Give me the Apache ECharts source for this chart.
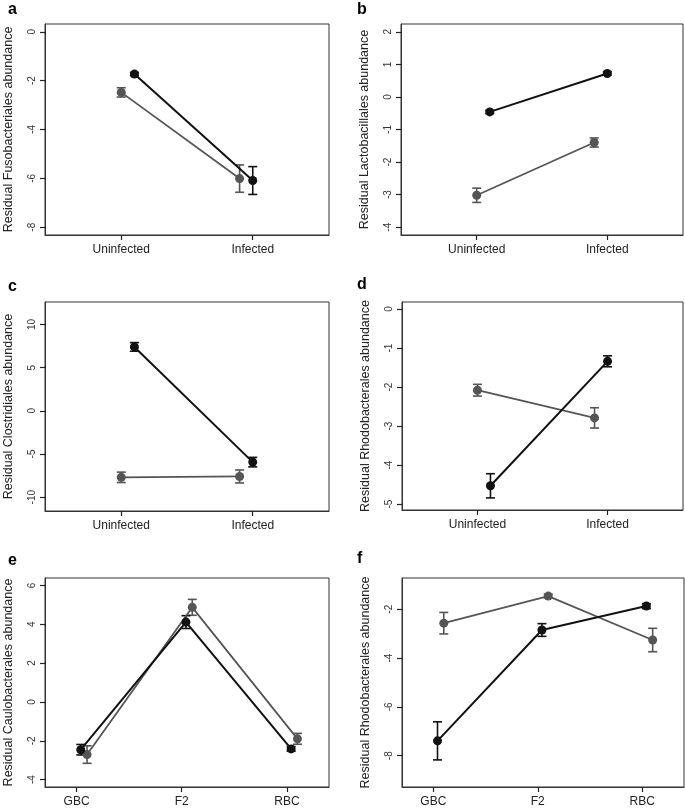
<!DOCTYPE html>
<html><head><meta charset="utf-8">
<script src="https://cdn.jsdelivr.net/npm/echarts@6/dist/echarts.min.js"></script>
<style>html,body{margin:0;padding:0;background:#fff}#c{width:685px;height:809px}</style>
</head><body><div id="c"></div>
<script>
// ---- data ----
const catsInf = ['Uninfected', 'Infected'];
const catsGen = ['GBC', 'F2', 'RBC'];
const dodgeInfBlack = [0.1, 0.0];
const dodgeInfGrey = [0.0, -0.1];
const dodgeGenBlack = [0.04, 0.04, 0.04];
const dodgeGenGrey = [0.1, 0.1, 0.1];

const aBlack = [-1.73, -6.09], aBlackErr = [0.07, 0.57];
const aGrey = [-2.48, -6.01], aGreyErr = [0.19, 0.56];
const bBlack = [-0.46, 0.72], bBlackErr = [0.05, 0.05];
const bGrey = [-3.02, -1.40], bGreyErr = [0.22, 0.14];
const cBlack = [7.4, -5.94], cBlackErr = [0.5, 0.55];
const cGrey = [-7.7, -7.6], cGreyErr = [0.6, 0.75];
const dBlack = [-4.53, -1.34], dBlackErr = [0.31, 0.14];
const dGrey = [-2.08, -2.79], dGreyErr = [0.15, 0.26];
const eBlack = [-2.46, 4.11, -2.42], eBlackErr = [0.27, 0.33, 0.12];
const eGrey = [-2.71, 4.87, -1.9], eGreyErr = [0.45, 0.41, 0.28];
const fBlack = [-7.39, -2.85, -1.87], fBlackErr = [0.78, 0.26, 0.1];
const fGrey = [-2.57, -1.46, -3.26], fGreyErr = [0.44, 0.08, 0.48];

const aTicks = [0, -2, -4, -6, -8];
const bTicks = [2, 1, 0, -1, -2, -3, -4];
const cTicks = [10, 5, 0, -5, -10];
const dTicks = [0, -1, -2, -3, -4, -5];
const eTicks = [6, 4, 2, 0, -2, -4];
const fTicks = [-2, -4, -6, -8];

const titles = ['Residual Fusobacteriales abundance', 'Residual Lactobacillales abundance',
  'Residual Clostridiales abundance', 'Residual Rhodobacterales abundance',
  'Residual Caulobacterales abundance', 'Residual Rhodobacterales abundance'];
const letters = ['a', 'b', 'c', 'd', 'e', 'f'];

// ---- layout ----
const panels = [
  {grid:{left:45, top:24, width:284, height:211}, cats:catsInf, xr:[0.42,2.58], yr:[-8.32,0.32], ticks:aTicks,
   black:aBlack, blackErr:aBlackErr, grey:aGrey, greyErr:aGreyErr, db:dodgeInfBlack, dg:dodgeInfGrey, letter:[8,10]},
  {grid:{left:401, top:24, width:282, height:211}, cats:catsInf, xr:[0.42,2.58], yr:[-4.24,2.24], ticks:bTicks,
   black:bBlack, blackErr:bBlackErr, grey:bGrey, greyErr:bGreyErr, db:dodgeInfBlack, dg:dodgeInfGrey, letter:[357,10]},
  {grid:{left:45, top:302, width:284, height:209}, cats:catsInf, xr:[0.42,2.58], yr:[-11.6,12.6], ticks:cTicks,
   black:cBlack, blackErr:cBlackErr, grey:cGrey, greyErr:cGreyErr, db:dodgeInfBlack, dg:dodgeInfGrey, letter:[8,287]},
  {grid:{left:402, top:302, width:281, height:208}, cats:catsInf, xr:[0.42,2.58], yr:[-5.15,0.18], ticks:dTicks,
   black:dBlack, blackErr:dBlackErr, grey:dGrey, greyErr:dGreyErr, db:dodgeInfBlack, dg:dodgeInfGrey, letter:[357,285]},
  {grid:{left:45, top:578, width:284, height:209}, cats:catsGen, xr:[0.7,3.4], yr:[-4.38,6.38], ticks:eTicks,
   black:eBlack, blackErr:eBlackErr, grey:eGrey, greyErr:eGreyErr, db:dodgeGenBlack, dg:dodgeGenGrey, letter:[8,561]},
  {grid:{left:402, top:578, width:282, height:209}, cats:catsGen, xr:[0.7,3.4], yr:[-9.28,-0.72], ticks:fTicks,
   black:fBlack, blackErr:fBlackErr, grey:fGrey, greyErr:fGreyErr, db:dodgeGenBlack, dg:dodgeGenGrey, letter:[357,559]}
];

const BLACK = '#111111', GREY = '#555555';
const FONT = 'Liberation Sans, Arial, sans-serif';

function errRender(color){
  return function(params, api){
    const x = api.value(0), lo = api.value(1), hi = api.value(2);
    const p1 = api.coord([x, lo]), p2 = api.coord([x, hi]);
    const w = 4.5;
    const st = {stroke: color, lineWidth: 1.6};
    return {type:'group', children:[
      {type:'line', shape:{x1:p1[0], y1:p1[1], x2:p2[0], y2:p2[1]}, style:st},
      {type:'line', shape:{x1:p1[0]-w, y1:p1[1], x2:p1[0]+w, y2:p1[1]}, style:st},
      {type:'line', shape:{x1:p2[0]-w, y1:p2[1], x2:p2[0]+w, y2:p2[1]}, style:st}
    ]};
  };
}

const grids = [], xAxes = [], yAxes = [], series = [], graphics = [];
panels.forEach((p, i) => {
  grids.push(Object.assign({show:true, borderColor:'#333', borderWidth:1, backgroundColor:'transparent'}, p.grid));
  const catVals = p.cats.map((c, k) => k + 1);
  xAxes.push({type:'value', gridIndex:i, min:p.xr[0], max:p.xr[1], position:'bottom',
    axisLine:{show:true, onZero:false, lineStyle:{color:'#333', width:1}}, splitLine:{show:false},
    axisTick:{show:true, inside:false, length:5, lineStyle:{color:'#222', width:1.2}, customValues:catVals},
    axisLabel:{customValues:catVals, formatter:v => p.cats[Math.round(v) - 1] || '', color:'#222', fontSize:12, fontFamily:FONT, margin:9}
  });
  yAxes.push({type:'value', gridIndex:i, min:p.yr[0], max:p.yr[1], position:'left',
    name:titles[i], nameLocation:'middle', nameRotate:90, nameGap:30,
    nameTextStyle:{color:'#222', fontSize:12.5, fontFamily:FONT},
    axisLine:{show:true, onZero:false, lineStyle:{color:'#333', width:1}}, splitLine:{show:false},
    axisTick:{show:true, inside:false, length:5, lineStyle:{color:'#222', width:1.2}, customValues:p.ticks},
    axisLabel:{customValues:p.ticks, rotate:90, color:'#333', fontSize:10, fontFamily:FONT, margin:8}
  });
  const mk = (vals, errs, dodge, color, w) => {
    const pts = vals.map((v, k) => [k + 1 + dodge[k], v]);
    const eb = vals.map((v, k) => [k + 1 + dodge[k], v - errs[k], v + errs[k]]);
    series.push({type:'custom', xAxisIndex:i, yAxisIndex:i, renderItem:errRender(color), data:eb, silent:true, z:2});
    series.push({type:'line', xAxisIndex:i, yAxisIndex:i, data:pts, symbol:'circle', symbolSize:9,
      lineStyle:{color:color, width:w}, itemStyle:{color:color}, silent:true, animation:false, z:3});
  };
  mk(p.grey, p.greyErr, p.dg, GREY, 1.8);
  mk(p.black, p.blackErr, p.db, BLACK, 2);
  graphics.push({type:'text', left:p.letter[0], top:p.letter[1] - 8,
    style:{text:letters[i], font:'bold 16px ' + FONT, fill:'#000'}});
});

const chart = echarts.init(document.getElementById('c'), null, {renderer:'canvas'});
chart.setOption({animation:false, grid:grids, xAxis:xAxes, yAxis:yAxes, series:series, graphic:graphics});
</script></body></html>
